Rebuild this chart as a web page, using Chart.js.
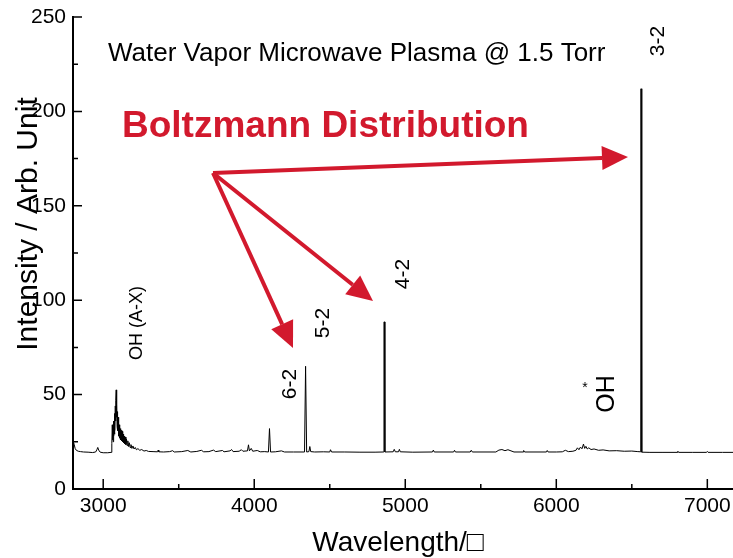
<!DOCTYPE html>
<html>
<head>
<meta charset="utf-8">
<script src="https://cdn.jsdelivr.net/npm/chart.js@4"></script>
<style>
  html, body { margin: 0; padding: 0; background: #fff; }
</style>
</head>
<body>
<canvas id="chart" width="733" height="558"></canvas>
<script>
// Spectrum (wavelength in Å, intensity in arb. units)
// UV edge before the OH band
const uvWl = [2800, 2804, 2808, 2814, 2822, 2835, 2850, 2870, 2900, 2930, 2950, 2958, 2964, 2970, 2980, 3000, 3030, 3052]
const uvI = [22.5, 24.5, 23.5, 21.5, 20.5, 20, 19.8, 19.6, 19.5, 19.3, 19.6, 20.8, 22, 20.6, 19.5, 19.2, 19.2, 19.4]

// OH (A-X) band
const ohWl = [
  3056, 3058, 3060, 3062, 3064, 3066, 3068, 3070, 3072, 3074,
  3076, 3078, 3080, 3082, 3084, 3086, 3088, 3090, 3092, 3094,
  3096, 3098, 3100, 3102, 3104, 3106, 3108, 3110, 3112, 3114,
  3117, 3120, 3123, 3126, 3129, 3132, 3135, 3138, 3142, 3146,
  3150, 3154, 3158, 3163, 3168, 3173, 3178, 3184, 3190, 3197,
  3204, 3212, 3220, 3230, 3242, 3255, 3270, 3285, 3300
]
const ohI = [
  20.5, 24, 34, 26, 31, 25, 36, 28, 33, 29,
  40, 31, 44, 36, 47, 52.5, 38, 45, 33, 41,
  31, 38, 29, 36, 28, 34, 27, 33, 26.5, 32,
  26, 31, 25.5, 30.5, 25, 29, 24.5, 28, 24, 27.5,
  23.5, 26.5, 23, 25.5, 22.5, 24.5, 22, 23.5, 21.5, 22.8,
  21.2, 22, 20.8, 21.4, 20.5, 20.9, 20.1, 20.4, 19.9
]

// visible part with the Balmer lines
const visWl = [
  3330, 3360, 3364, 3368, 3400, 3440, 3460, 3470, 3520, 3560,
  3580, 3620, 3650, 3665, 3700, 3730, 3745, 3790, 3800, 3840,
  3850, 3860, 3900, 3915, 3925, 3955, 3962, 3968, 3980, 3990,
  4020, 4040, 4070, 4094, 4101, 4108, 4140, 4180, 4200, 4260,
  4333, 4340, 4347, 4362, 4368, 4374, 4400, 4460, 4500, 4505,
  4512, 4600, 4700, 4800, 4857, 4859, 4863, 4865, 4920, 4927,
  4934, 4955, 4961, 4967, 5050, 5180, 5186, 5192, 5320, 5326,
  5332, 5430, 5437, 5444, 5600, 5620, 5640, 5660, 5680, 5700,
  5720, 5780, 5784, 5790, 5935, 5940, 5946, 6000, 6040, 6060,
  6080, 6110, 6130, 6140, 6150, 6160, 6170, 6180, 6188, 6196,
  6205, 6215, 6230, 6250, 6280, 6310, 6350, 6400, 6450, 6500,
  6540, 6559, 6561, 6565, 6567, 6620, 6700, 6800, 6805, 6810,
  6900, 6995, 7000, 7005, 7100, 7170
]
const visI = [
  19.8, 19.7, 20.6, 19.7, 19.6, 19.8, 20.3, 19.6, 19.8, 20.4,
  19.6, 19.9, 20.5, 19.7, 19.8, 20.6, 19.8, 20.4, 19.7, 20.2,
  20.9, 19.8, 20, 20.8, 20, 20.2, 23.4, 20.2, 21.5, 20,
  20.4, 19.7, 19.8, 19.6, 32, 19.6, 19.7, 20.2, 19.6, 19.6,
  19.6, 65, 19.6, 19.8, 22.5, 19.8, 19.6, 19.7, 19.6, 20.8,
  19.6, 19.6, 19.5, 19.5, 19.6, 88.5, 88.5, 19.6, 19.7, 21,
  19.7, 19.7, 21, 19.7, 19.5, 19.6, 20.6, 19.6, 19.6, 20.5,
  19.6, 19.6, 20.5, 19.6, 19.6, 20.6, 20.9, 20.3, 20.8, 20.2,
  19.6, 19.6, 20.4, 19.6, 19.6, 20.4, 19.6, 19.6, 19.7, 20.5,
  19.8, 20, 20.5, 21.8, 20.8, 22.2, 21.3, 23.8, 21.5, 22.6,
  21.2, 21.8, 20.9, 21.2, 20.5, 20.7, 20.2, 20.3, 20, 20.1,
  19.8, 19.7, 212, 212, 19.5, 19.4, 19.4, 19.4, 20, 19.4,
  19.4, 19.4, 19.9, 19.4, 19.4, 19.4
]

const wavelength = [...uvWl, ...ohWl, ...visWl]
const intensity = [...uvI, ...ohI, ...visI]

const xTicks = [3000, 4000, 5000, 6000, 7000]
const xMinor = [3500, 4500, 5500, 6500]
const yTicks = [0, 50, 100, 150, 200, 250]
const yMinor = [25, 75, 125, 175, 225]

const FONT = '"Liberation Sans", Arial, sans-serif'
const RED = '#d2192d'

function vtext(ctx, text, x, y, size) {
  ctx.save()
  ctx.translate(x, y)
  ctx.rotate(-Math.PI / 2)
  ctx.font = size + 'px ' + FONT
  ctx.textAlign = 'center'
  ctx.textBaseline = 'middle'
  ctx.fillText(text, 0, 0)
  ctx.restore()
}

function arrow(ctx, x0, y0, x1, y1) {
  const a = Math.atan2(y1 - y0, x1 - x0)
  const len = 26, half = 12
  const bx = x1 - len * Math.cos(a), by = y1 - len * Math.sin(a)
  ctx.beginPath()
  ctx.moveTo(x0, y0)
  ctx.lineTo(bx, by)
  ctx.stroke()
  ctx.beginPath()
  ctx.moveTo(x1, y1)
  ctx.lineTo(bx + half * Math.sin(a), by - half * Math.cos(a))
  ctx.lineTo(bx - half * Math.sin(a), by + half * Math.cos(a))
  ctx.closePath()
  ctx.fill()
}

// Inward ticks, labels, titles and the red arrows
let overlay = {
  id: 'overlay',
  afterDraw(chart) {
    const ctx = chart.ctx
    const xs = chart.scales.x, ys = chart.scales.y
    const { left, bottom } = chart.chartArea
    ctx.save()
    ctx.strokeStyle = '#000'
    ctx.lineWidth = 1.5
    ctx.beginPath()
    yTicks.forEach(v => { const p = ys.getPixelForValue(v); ctx.moveTo(left, p); ctx.lineTo(left + 9, p) })
    yMinor.forEach(v => { const p = ys.getPixelForValue(v); ctx.moveTo(left, p); ctx.lineTo(left + 5, p) })
    xTicks.forEach(v => { const p = xs.getPixelForValue(v); ctx.moveTo(p, bottom); ctx.lineTo(p, bottom - 10) })
    xMinor.forEach(v => { const p = xs.getPixelForValue(v); ctx.moveTo(p, bottom); ctx.lineTo(p, bottom - 5) })
    ctx.stroke()

    ctx.fillStyle = '#000'
    ctx.font = '21px ' + FONT
    ctx.textAlign = 'right'
    ctx.textBaseline = 'middle'
    yTicks.forEach(v => ctx.fillText(String(v), left - 7, ys.getPixelForValue(v)))
    ctx.textAlign = 'center'
    xTicks.forEach(v => ctx.fillText(String(v), xs.getPixelForValue(v), bottom + 17))

    // axis titles
    ctx.font = '28px ' + FONT
    ctx.fillText('Wavelength/\u25A1', 398, 543)
    vtext(ctx, 'Intensity / Arb. Unit', 29, 224, 30)

    // header
    ctx.textAlign = 'left'
    ctx.font = '26px ' + FONT
    ctx.fillText('Water Vapor Microwave Plasma @ 1.5 Torr', 108, 54)

    // line labels
    vtext(ctx, '3-2', 658, 41, 21)
    vtext(ctx, '4-2', 403, 274, 21)
    vtext(ctx, '5-2', 323, 323, 21)
    vtext(ctx, '6-2', 290, 384, 21)
    vtext(ctx, 'OH (A-X)', 137, 323, 18)
    vtext(ctx, 'OH', 607, 394, 25)
    ctx.font = '14px ' + FONT
    ctx.textAlign = 'center'
    ctx.fillText('*', 585, 388)

    // Boltzmann arrows
    ctx.fillStyle = RED
    ctx.strokeStyle = RED
    ctx.lineWidth = 4
    ctx.font = 'bold 37px ' + FONT
    ctx.textAlign = 'left'
    ctx.fillText('Boltzmann Distribution', 122, 127)
    arrow(ctx, 213, 173, 628, 157)
    arrow(ctx, 213, 173, 373, 301)
    arrow(ctx, 213, 173, 293, 348)
    ctx.restore()
  }
}

const points = wavelength.map((w, i) => ({ x: w, y: intensity[i] }))

new Chart(document.getElementById('chart'), {
  type: 'line',
  data: {
    datasets: [{
      data: points,
      borderColor: '#000',
      borderWidth: 1,
      pointRadius: 0,
      tension: 0,
      fill: false
    }]
  },
  options: {
    responsive: false,
    animation: false,
    layout: { padding: { top: 17, left: 0, right: 0, bottom: 0 } },
    plugins: { legend: { display: false }, tooltip: { enabled: false } },
    scales: {
      x: {
        type: 'linear',
        min: 2800,
        max: 7170,
        grid: { display: false },
        border: { display: true, color: '#000', width: 2 },
        ticks: { display: false },
        afterFit: s => { s.height = 69 }
      },
      y: {
        min: 0,
        max: 250,
        grid: { display: false },
        border: { display: true, color: '#000', width: 2 },
        ticks: { display: false },
        afterFit: s => { s.width = 73 }
      }
    }
  },
  plugins: [overlay]
})
</script>
</body>
</html>
